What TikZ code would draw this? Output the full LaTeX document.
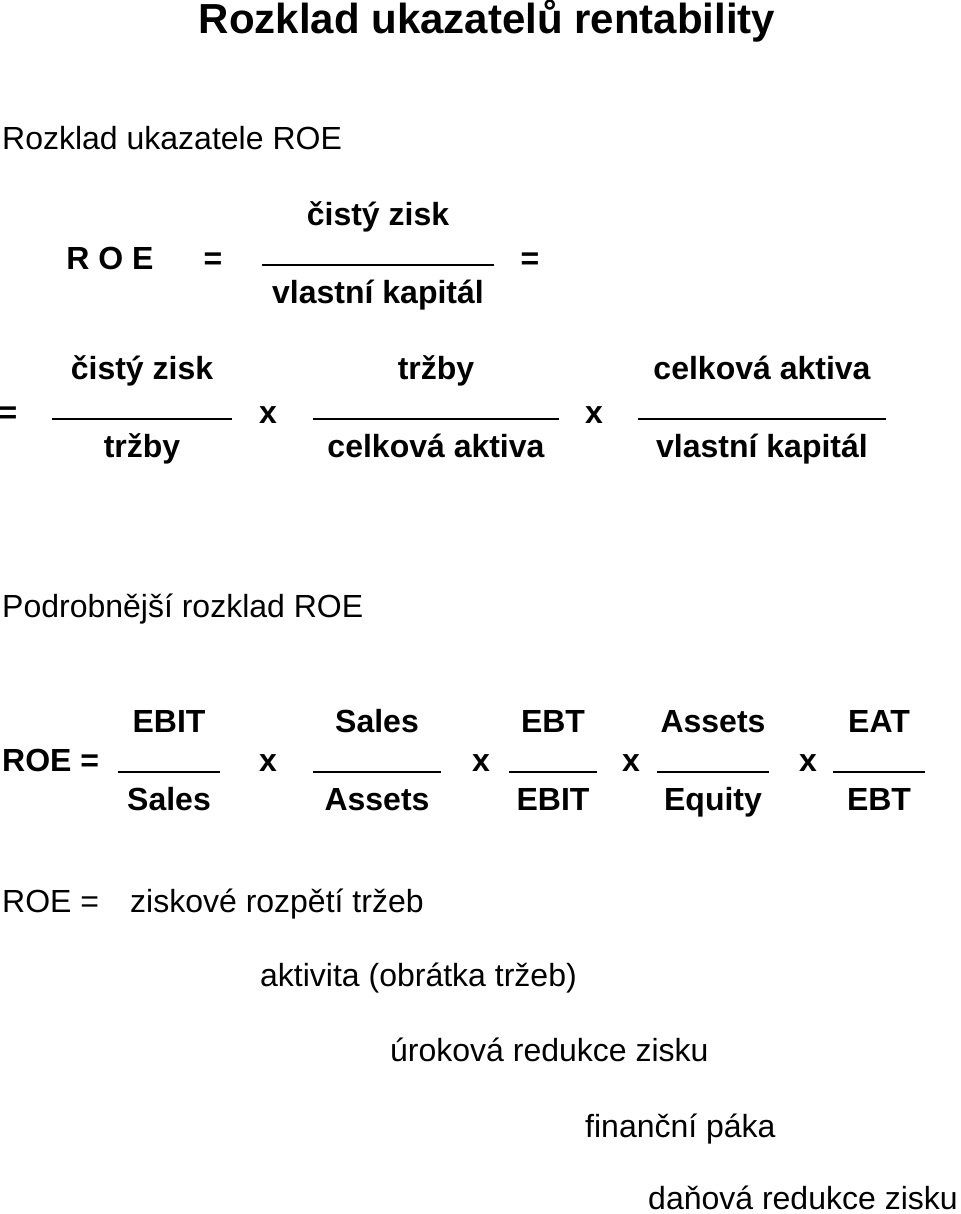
\documentclass[tikz,border=0pt]{standalone}
\usepackage{fontspec}
\setmainfont{Liberation Sans}
\usetikzlibrary{positioning}
\tikzset{
  big/.style={font=\fontsize{32}{36}\selectfont\bfseries, inner sep=0pt, text height=0.72em, text depth=0.2em},
  plain/.style={font=\fontsize{32}{36}\selectfont, inner sep=0pt, text height=0.72em, text depth=0.2em},
  bar/.style={line width=1.4pt}
}
\newcommand{\frc}[5]{% x, y, numerator, denominator, half-width
  \node[big] at (#1,#2-39) {#3};
  \node[big] at (#1,#2+39) {#4};
  \draw[bar] (#1-#5,#2+3) -- (#1+#5,#2+3);
}
\begin{document}
\begin{tikzpicture}[x=1pt,y=-1pt]
  \useasboundingbox (0,0) rectangle (960,1214);
  % title
  \node[font=\fontsize{42}{48}\selectfont\bfseries, inner sep=0pt, text height=0.72em, text depth=0.2em] (title) at (487,31) {Rozklad ukazatelů rentability};
  \begin{scope}[shift={(0,9)}]
  \node[plain, anchor=west] (roe1) at (2,138) {Rozklad ukazatele ROE};
  % first row
  \node[big] (r) at (110,258) {R O E};
  \node[big] at (213,258) {=};
  \frc{378}{253}{čistý zisk}{vlastní kapitál}{116}
  \node[big] at (530,258) {=};
  % second row
  \node[big] at (8,412) {=};
  \frc{142}{407}{čistý zisk}{tržby}{90}
  \node[big] at (268,412) {x};
  \frc{436}{407}{tržby}{celková aktiva}{123}
  \node[big] at (594,412) {x};
  \frc{762}{407}{celková aktiva}{vlastní kapitál}{124}
  % detailed
  \node[plain, anchor=west] (roe2) at (2,606) {Podrobnější rozklad ROE};
  \node[big, anchor=west] at (2,760) {ROE =};
  \frc{169}{760}{EBIT}{Sales}{51}
  \node[big] at (268,760) {x};
  \frc{377}{760}{Sales}{Assets}{64}
  \node[big] at (481,760) {x};
  \frc{553}{760}{EBT}{EBIT}{44}
  \node[big] at (631,760) {x};
  \frc{713}{760}{Assets}{Equity}{56}
  \node[big] at (808,760) {x};
  \frc{879}{760}{EAT}{EBT}{46}
  % bottom
  \node[plain, anchor=west] (b0) at (2,901) {ROE =};
  \node[plain, anchor=west] (b1) at (130,901) {ziskové rozpětí tržeb};
  \node[plain, anchor=west] (b2) at (260,975) {aktivita (obrátka tržeb)};
  \node[plain, anchor=west] (b3) at (390,1050) {úroková redukce zisku};
  \node[plain, anchor=west] (b4) at (585,1126) {finanční páka};
  \node[plain, anchor=west] (b5) at (648,1198) {daňová redukce zisku};
  \end{scope}
\end{tikzpicture}
\end{document}
